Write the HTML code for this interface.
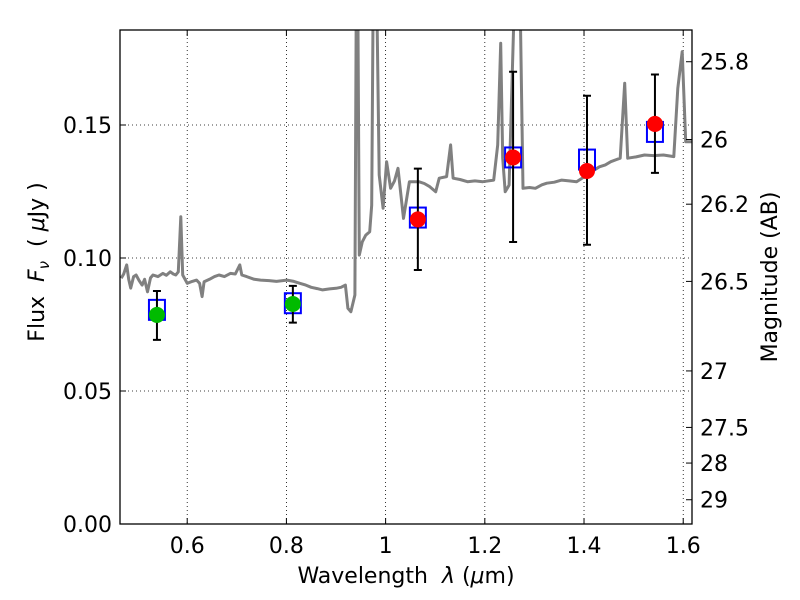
<!DOCTYPE html>
<html><head><meta charset="utf-8"><style>
html,body{margin:0;padding:0;background:#fff;}
svg{display:block;font-family:"DejaVu Sans","Liberation Sans",sans-serif;}
</style></head><body>
<svg id="chart" width="800" height="600" viewBox="0 0 800 600" xmlns="http://www.w3.org/2000/svg">
<defs><clipPath id="plotclip"><rect x="120" y="30" width="572" height="494"/></clipPath></defs>
<rect x="0" y="0" width="800" height="600" fill="#fff"/>
<g id="grid"></g>
<g id="spec" clip-path="url(#plotclip)"></g>
<g id="pts"></g>
<rect x="120" y="30" width="572" height="494" fill="none" stroke="#000" stroke-width="1.3"/>
<g id="axes"></g>
<text x="406" y="583" font-size="22" text-anchor="middle" xml:space="preserve">Wavelength  <tspan font-style="italic">λ</tspan> (<tspan font-style="italic">μ</tspan>m)</text>
<text transform="translate(44,262) rotate(-90)" font-size="22" text-anchor="middle" xml:space="preserve">Flux  <tspan font-style="italic">F</tspan><tspan font-style="italic" font-size="15" dy="5">ν</tspan><tspan dy="-5">  ( </tspan><tspan font-style="italic">μ</tspan>Jy )</text>
<text transform="translate(777,277) rotate(-90)" font-size="22" text-anchor="middle">Magnitude (AB)</text>
</svg>
<script>
const xTicks = [0.6, 0.8, 1.0, 1.2, 1.4, 1.6];
const xTickLabels = ["0.6", "0.8", "1", "1.2", "1.4", "1.6"];
const yTicks = [0, 0.05, 0.10, 0.15];
const yTickLabels = ["0.00", "0.05", "0.10", "0.15"];
const magTicks = [25.8, 26, 26.2, 26.5, 27, 27.5, 28, 29];
const magTickLabels = ["25.8", "26", "26.2", "26.5", "27", "27.5", "28", "29"];
const specLam = [0.467,0.472,0.478,0.482,0.486,0.492,0.497,0.503,0.509,0.514,0.520,0.526,0.531,0.541,0.551,0.558,0.566,0.572,0.577,0.582,0.587,0.591,0.600,0.610,0.619,0.625,0.630,0.634,0.645,0.655,0.664,0.675,0.687,0.697,0.706,0.710,0.720,0.735,0.748,0.765,0.780,0.801,0.815,0.827,0.839,0.850,0.862,0.873,0.887,0.900,0.910,0.919,0.924,0.930,0.938,0.941,0.944,0.947,0.953,0.960,0.968,0.972,0.975,0.982,0.987,0.995,1.002,1.010,1.018,1.025,1.036,1.048,1.067,1.078,1.089,1.101,1.108,1.123,1.131,1.136,1.150,1.165,1.180,1.196,1.218,1.226,1.232,1.236,1.241,1.249,1.260,1.271,1.277,1.290,1.302,1.315,1.325,1.340,1.355,1.370,1.385,1.396,1.408,1.420,1.431,1.443,1.454,1.465,1.473,1.482,1.488,1.505,1.522,1.540,1.560,1.581,1.589,1.598,1.605,1.617];
const specFlux = [0.0924,0.0940,0.0974,0.0920,0.0887,0.0930,0.0936,0.0915,0.0898,0.0920,0.0873,0.0925,0.0936,0.0930,0.0942,0.0935,0.0948,0.0940,0.0936,0.0948,0.1155,0.0936,0.0905,0.0912,0.0917,0.0905,0.0855,0.0911,0.0920,0.0930,0.0936,0.0930,0.0942,0.0940,0.0974,0.0936,0.0930,0.0920,0.0917,0.0915,0.0912,0.0917,0.0912,0.0905,0.0898,0.0890,0.0885,0.0880,0.0884,0.0886,0.0890,0.0898,0.0811,0.0798,0.0861,0.2000,0.2000,0.1011,0.1061,0.1086,0.1099,0.1199,0.2000,0.2000,0.1312,0.1187,0.1362,0.1262,0.1290,0.1337,0.1149,0.1287,0.1287,0.1280,0.1268,0.1249,0.1300,0.1306,0.1425,0.1300,0.1295,0.1287,0.1290,0.1287,0.1293,0.1425,0.1807,0.1375,0.1249,0.1274,0.2000,0.2000,0.1262,0.1265,0.1262,0.1275,0.1281,0.1285,0.1293,0.1290,0.1287,0.1300,0.1312,0.1330,0.1343,0.1350,0.1362,0.1370,0.1375,0.1657,0.1375,0.1380,0.1387,0.1385,0.1387,0.1381,0.1638,0.1776,0.1437,0.1437];
const photLam = [0.539, 0.813, 1.065, 1.257, 1.406, 1.543];
const photFlux = [0.0786, 0.0827, 0.1145, 0.1378, 0.1327, 0.1504];
const errHigh = [0.0876, 0.0895, 0.1336, 0.1700, 0.1610, 0.1690];
const errLow = [0.0692, 0.0757, 0.0955, 0.1060, 0.1050, 0.1320];
const modelFlux = [0.0805, 0.0830, 0.1152, 0.1378, 0.1370, 0.1474];
const photColor = ["#00bb00", "#00bb00", "#ff0000", "#ff0000", "#ff0000", "#ff0000"];

const NS = "http://www.w3.org/2000/svg";
const X0 = 120, X1 = 692, Y0 = 30, Y1 = 524;
const LMIN = 0.4645, LMAX = 1.6177, FMIN = 0, FMAX = 0.18571;
function xs(l){ return X0 + (l - LMIN) / (LMAX - LMIN) * (X1 - X0); }
function ys(f){ return Y1 - (f - FMIN) / (FMAX - FMIN) * (Y1 - Y0); }
function magToFlux(m){ return Math.pow(10, (23.9 - m) / 2.5); }
function mk(tag, attrs, parent){ const e = document.createElementNS(NS, tag); for (const k in attrs) e.setAttribute(k, attrs[k]); parent.appendChild(e); return e; }

const grid = document.getElementById('grid');
const axes = document.getElementById('axes');
xTicks.forEach((t, i) => {
  const x = xs(t);
  const g = mk('line', {x1:x, x2:x, y1:Y0, y2:Y1, stroke:'#000', 'stroke-width':0.8, 'stroke-dasharray':'1,3'}, grid);
  
  
  mk('line', {x1:x, x2:x, y1:Y1, y2:Y1-6, stroke:'#000'}, axes);
  mk('line', {x1:x, x2:x, y1:Y0, y2:Y0+6, stroke:'#000'}, axes);
  const tx = mk('text', {x:x, y:Y1+29, 'font-size':22, 'text-anchor':'middle'}, axes);
  tx.textContent = xTickLabels[i];
  
  
});
yTicks.forEach((t, i) => {
  const y = ys(t);
  const g = mk('line', {x1:X0, x2:X1, y1:y, y2:y, stroke:'#000', 'stroke-width':0.8, 'stroke-dasharray':'1,3'}, grid);
  
  
  mk('line', {x1:X0, x2:X0+6, y1:y, y2:y, stroke:'#000'}, axes);
  const tx = mk('text', {x:X0-8, y:y+8, 'font-size':22, 'text-anchor':'end'}, axes);
  tx.textContent = yTickLabels[i];
  
  
});
magTicks.forEach((m, i) => {
  const y = ys(magToFlux(m));
  mk('line', {x1:X1, x2:X1-6, y1:y, y2:y, stroke:'#000'}, axes);
  const tx = mk('text', {x:X1+8, y:y+8, 'font-size':22, 'text-anchor':'start'}, axes);
  tx.textContent = magTickLabels[i];
  
  
});

const spec = document.getElementById('spec');
let d = '';
specLam.forEach((l, i) => { d += (i ? 'L' : 'M') + xs(l).toFixed(1) + ',' + ys(specFlux[i]).toFixed(1); });
const sp = mk('path', {d:d, fill:'none', stroke:'#808080', 'stroke-width':3, 'stroke-linejoin':'round'}, spec);



const pts = document.getElementById('pts');
photLam.forEach((l, i) => {
  const x = xs(l);
  const by = ys(modelFlux[i]);
  const b = mk('rect', {x:x-8, y:by-10, width:16, height:20, fill:'none', stroke:'#0000ff', 'stroke-width':2}, pts);
  
  
  const yh = ys(errHigh[i]), yl = ys(errLow[i]);
  const e = mk('path', {d:`M${x},${yh}L${x},${yl}M${x-4},${yh}L${x+4},${yh}M${x-4},${yl}L${x+4},${yl}`, stroke:'#000', 'stroke-width':2, fill:'none'}, pts);
  
  
  const c = mk('circle', {cx:x, cy:ys(photFlux[i]), r:8, fill:photColor[i]}, pts);
  
  
});
</script>
</body></html>
